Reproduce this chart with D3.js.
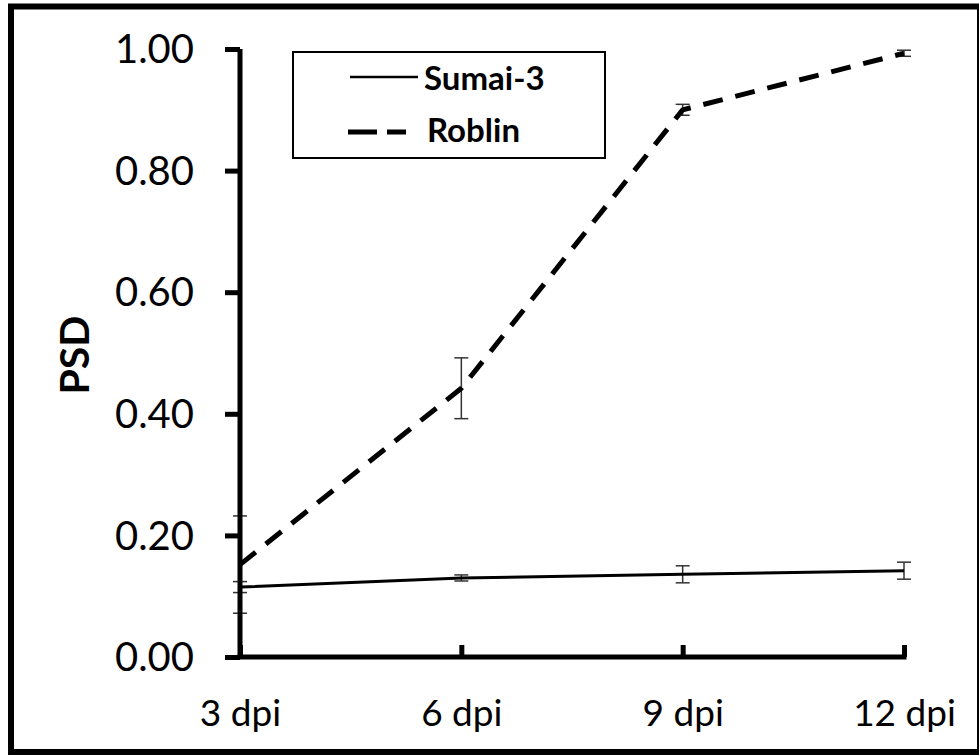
<!DOCTYPE html>
<html><head><meta charset="utf-8">
<script src="https://cdn.jsdelivr.net/npm/d3@7"></script>
<style>body{margin:0;background:#fff}svg{display:block}</style>
</head><body>
<svg id="c" width="979" height="755"></svg>
<script>
const categories = ["3 dpi", "6 dpi", "9 dpi", "12 dpi"];
const yTicks = [0, 0.2, 0.4, 0.6, 0.8, 1.0];
const sumai = [0.115, 0.130, 0.136, 0.142];
const sumaiErr = [0.009, 0.005, 0.014, 0.014];
const roblin = [0.152, 0.442, 0.900, 0.993];
const roblinErr = [0.080, 0.050, 0.009, 0.005];
const seriesNames = ["Sumai-3", "Roblin"];

const svg = d3.select("#c");
const font = "Lato, 'Open Sans', sans-serif";
const x = d3.scalePoint().domain(categories).range([240, 904]).padding(0);
const y = d3.scaleLinear().domain([0, 1]).range([657, 49]);

// outer frame
svg.append("rect").attr("x", 11).attr("y", 6.5).attr("width", 969).attr("height", 745.5)
  .attr("fill", "none").attr("stroke", "#000").attr("stroke-width", 6);

// error bars
function errBars(vals, errs) {
  const g = svg.append("g").attr("stroke", "#333").attr("stroke-width", 1.5).attr("fill", "none");
  vals.forEach((v, i) => {
    const cx = x(categories[i]);
    const y0 = y(v - errs[i]), y1 = y(v + errs[i]);
    g.append("line").attr("x1", cx).attr("x2", cx).attr("y1", y0).attr("y2", y1);
    g.append("line").attr("x1", cx - 7).attr("x2", cx + 7).attr("y1", y0).attr("y2", y0);
    g.append("line").attr("x1", cx - 7).attr("x2", cx + 7).attr("y1", y1).attr("y2", y1);
  });
}
errBars(sumai, sumaiErr);
errBars(roblin, roblinErr);

const line = d3.line().x((d, i) => x(categories[i])).y(d => y(d));
svg.append("path").datum(sumai).attr("d", line).attr("fill", "none")
  .attr("stroke", "#000").attr("stroke-width", 3);
svg.append("path").datum(roblin).attr("d", line).attr("fill", "none")
  .attr("stroke", "#000").attr("stroke-width", 5).attr("stroke-dasharray", "20,13")
  .attr("stroke-linejoin", "round");

// y axis
const yAxis = svg.append("g").attr("transform", "translate(240,0)")
  .call(d3.axisLeft(y).tickValues(yTicks).tickSize(15).tickPadding(31).tickFormat(d3.format(".2f")));
yAxis.select(".domain").attr("d", `M0,${y(1)}V${y(0)}`).attr("stroke", "#000").attr("stroke-width", 5);
yAxis.selectAll(".tick line").attr("stroke", "#000").attr("stroke-width", 5);
yAxis.selectAll(".tick text").attr("font-family", font).attr("font-size", 40).attr("fill", "#000").attr("dy", "0.34em");

// x axis
const xAxis = svg.append("g").attr("transform", "translate(0,657)")
  .call(d3.axisBottom(x).tickSize(-12).tickPadding(0));
xAxis.select(".domain").attr("d", `M${x(categories[0]) - 2.5},0H${x(categories[3]) + 2.5}`).attr("stroke", "#000").attr("stroke-width", 5);
xAxis.selectAll(".tick line").attr("stroke", "#000").attr("stroke-width", 5);
xAxis.selectAll(".tick text").attr("font-family", font).attr("font-size", 37).attr("fill", "#000")
  .attr("dy", null).attr("y", 69);

// y label
svg.append("text").attr("transform", "translate(89,355) rotate(-90)").attr("text-anchor", "middle")
  .attr("font-family", font).attr("font-weight", "bold").attr("font-size", 41).text("PSD");

// legend
const lg = svg.append("g");
lg.append("rect").attr("x", 293).attr("y", 52).attr("width", 312).attr("height", 106)
  .attr("fill", "#fff").attr("stroke", "#000").attr("stroke-width", 2);
lg.append("line").attr("x1", 350).attr("x2", 418).attr("y1", 77).attr("y2", 77)
  .attr("stroke", "#000").attr("stroke-width", 2.5);
lg.append("line").attr("x1", 348).attr("x2", 406).attr("y1", 132).attr("y2", 132)
  .attr("stroke", "#000").attr("stroke-width", 5).attr("stroke-dasharray", "29,10");
lg.append("text").attr("x", 424).attr("y", 90).attr("font-family", font).attr("font-weight", "bold")
  .attr("font-size", 33).text(seriesNames[0]);
lg.append("text").attr("x", 427).attr("y", 142).attr("font-family", font).attr("font-weight", "bold")
  .attr("font-size", 33).text(seriesNames[1]);
</script>
</body></html>
